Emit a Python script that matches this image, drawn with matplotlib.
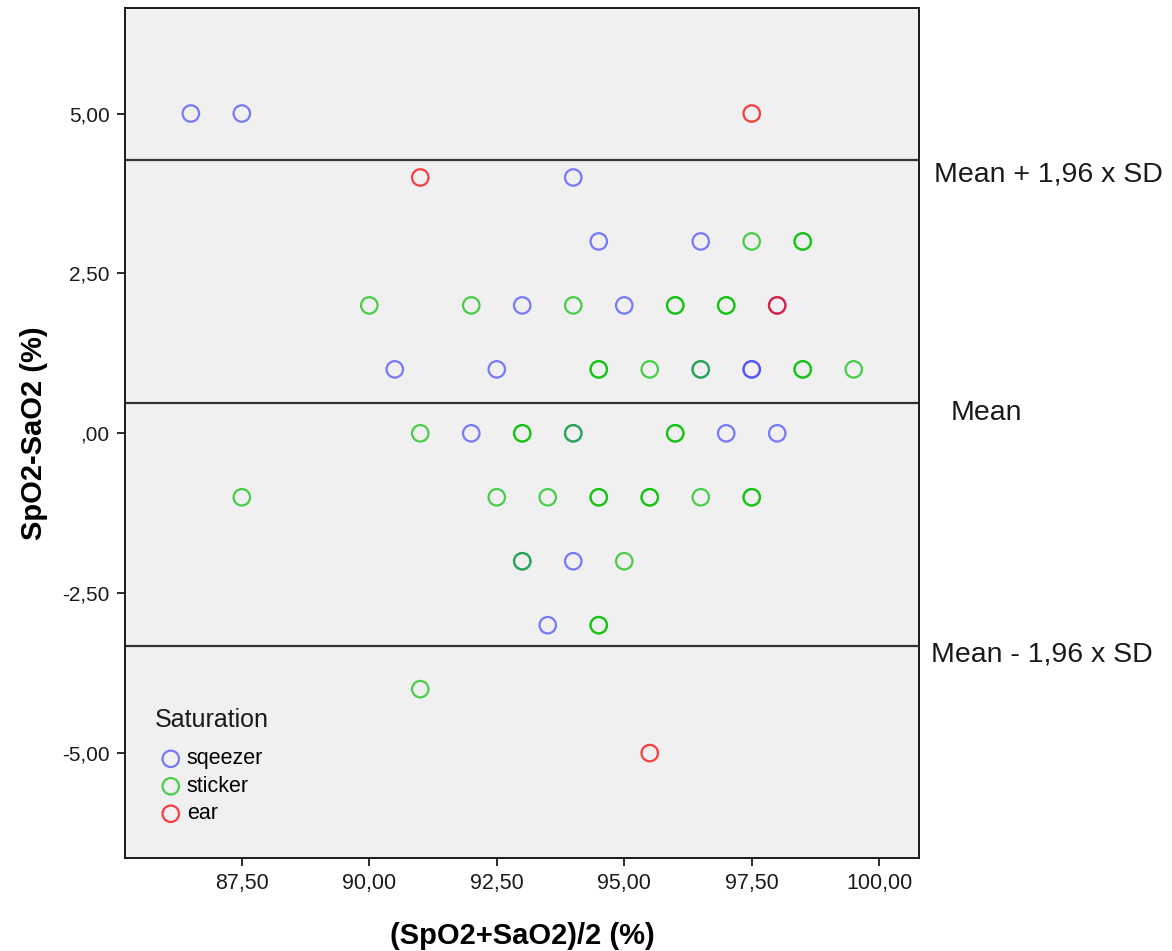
import matplotlib
matplotlib.use("Agg")
import matplotlib.pyplot as plt

plt.rcParams["font.family"] = ["Liberation Sans", "DejaVu Sans"]

# (SpO2+SaO2)/2 and SpO2-SaO2 per measurement site
sqeezer_x = [86.5, 87.5, 94.0, 94.5, 96.5, 93.0, 95.0, 98.0, 90.5, 92.5, 96.5, 97.5, 97.5,
             92.0, 94.0, 97.0, 98.0, 93.0, 94.0, 93.5]
sqeezer_y = [5, 5, 4, 3, 3, 2, 2, 2, 1, 1, 1, 1, 1,
             0, 0, 0, 0, -2, -2, -3]

sticker_x = [97.5, 98.5, 98.5,
             90.0, 92.0, 94.0, 96.0, 96.0, 97.0, 97.0,
             94.5, 94.5, 95.5, 96.5, 98.5, 98.5, 99.5,
             91.0, 93.0, 93.0, 94.0, 96.0, 96.0,
             87.5, 92.5, 93.5, 94.5, 94.5, 95.5, 95.5, 96.5, 97.5, 97.5,
             93.0, 95.0,
             94.5, 94.5,
             91.0]
sticker_y = [3, 3, 3,
             2, 2, 2, 2, 2, 2, 2,
             1, 1, 1, 1, 1, 1, 1,
             0, 0, 0, 0, 0, 0,
             -1, -1, -1, -1, -1, -1, -1, -1, -1, -1,
             -2, -2,
             -3, -3,
             -4]

ear_x = [97.5, 91.0, 98.0, 95.5]
ear_y = [5, 4, 2, -5]

mean_diff = 0.47
upper_loa = 4.27
lower_loa = -3.33

x_ticks = [87.5, 90.0, 92.5, 95.0, 97.5, 100.0]
x_tick_labels = ["87,50", "90,00", "92,50", "95,00", "97,50", "100,00"]
y_ticks = [5.0, 2.5, 0.0, -2.5, -5.0]
y_tick_labels = ["5,00", "2,50", ",00", "-2,50", "-5,00"]

fig = plt.figure(figsize=(11.72, 9.51), dpi=100)
ax = fig.add_axes([0.1067, 0.0978, 0.6774, 0.8938])
ax.set_facecolor("#f0f0f0")

marker_kw = dict(s=140, facecolors="none", linewidths=1.6)
ax.scatter(sqeezer_x, sqeezer_y, edgecolors=(0.27, 0.27, 1.0), alpha=0.7, label="sqeezer", zorder=3, **marker_kw)
ax.scatter(sticker_x, sticker_y, edgecolors=(0.0, 0.75, 0.0), alpha=0.7, label="sticker", zorder=4, **marker_kw)
ax.scatter(ear_x, ear_y, edgecolors=(1.0, 0.0, 0.0), alpha=0.75, label="ear", zorder=5, **marker_kw)

for val in (upper_loa, mean_diff, lower_loa):
    ax.axhline(val, color="#333333", lw=1.6, zorder=2)

text_kw = dict(xycoords=("axes fraction", "data"), textcoords="offset points",
               fontsize=20.5, color="#1a1a1a", va="center", ha="left", annotation_clip=False)
ax.annotate("Mean + 1,96 x SD", (1.0, upper_loa), xytext=(11, -10), **text_kw)
ax.annotate("Mean", (1.0, mean_diff), xytext=(23, -7), **text_kw)
ax.annotate("Mean - 1,96 x SD", (1.0, lower_loa), xytext=(9, -6), **text_kw)

ax.set_xlim(85.21, 100.78)
ax.set_ylim(-6.64, 6.65)
ax.set_xticks(x_ticks)
ax.set_xticklabels(x_tick_labels)
ax.set_yticks(y_ticks)
ax.set_yticklabels(y_tick_labels)
ax.tick_params(direction="out", length=6, width=1.3, labelsize=15, colors="#1a1a1a", pad=5)
ax.tick_params(axis="x", labelsize=15.5)

for spine in ax.spines.values():
    spine.set_linewidth(1.4)
    spine.set_color("#1a1a1a")

ax.set_xlabel("(SpO2+SaO2)/2 (%)", fontsize=21, fontweight="bold", labelpad=20)
ax.set_ylabel("SpO2-SaO2 (%)", fontsize=21, fontweight="bold", labelpad=10)

ax.text(0.0378, 0.1624, "Saturation", transform=ax.transAxes, fontsize=18,
        color="#1a1a1a", ha="left", va="center")
ax.legend(loc="upper left", bbox_to_anchor=(0.0237, 0.1415),
          frameon=False, fontsize=15.5,
          handletextpad=0.0, labelspacing=0.3, borderpad=0, handlelength=1.5)

fig.savefig("out.png", dpi=100, facecolor="white")
